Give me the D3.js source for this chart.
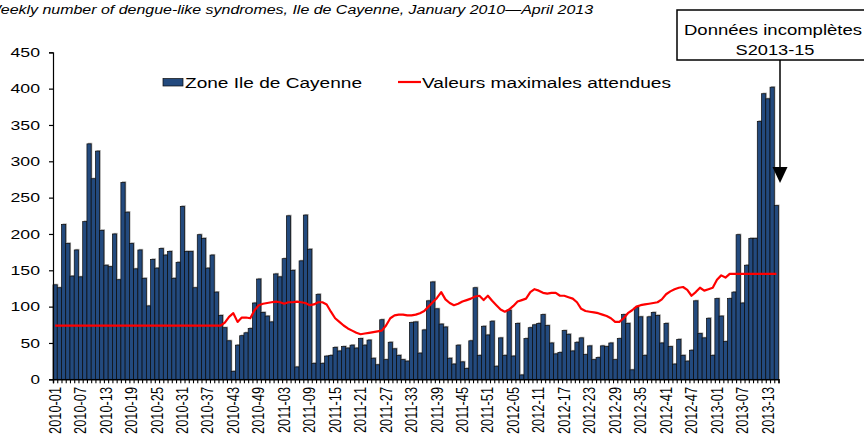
<!DOCTYPE html>
<html><head><meta charset="utf-8">
<script src="https://cdn.jsdelivr.net/npm/d3@7"></script>
<style>body{margin:0;background:#fff}svg{display:block}</style>
</head><body>
<script>
const years = [2010, 2011, 2012, 2013];
const weeksPerYear = [52, 52, 52, 15];
const cases = [
130,126,213,187,142,178,141,217,324,276,314,205,157,155,200,137,271,230,187,152,
178,139,101,165,153,180,171,176,139,161,238,176,176,126,199,
194,153,171,120,88,71,53,11,47,60,64,70,105,138,92,87,79,145,141,166,
225,150,17,163,226,179,22,117,22,32,33,44,39,45,
43,47,43,56,47,54,29,20,82,27,51,42,33,27,25,78,79,36,68,108,
134,97,76,72,29,21,47,24,15,53,126,33,73,61,80,
18,57,33,95,32,77,6,56,71,75,77,89,74,50,35,37,67,62,39,51,
57,34,46,27,30,46,45,50,27,56,89,77,13,99,
86,33,86,92,88,50,77,45,21,55,33,25,40,108,63,57,84,33,111,87,
52,111,120,199,105,157,194,194,355,393,386,402,239
];
const expectedMax = [
74,74,74,74,74,74,74,74,74,74,74,74,74,74,74,74,74,74,74,74,
74,74,74,74,74,74,74,74,74,74,74,74,74,74,74,74,74,74,74,74,
78,86,91,79,85,85,84,95,102,104,105,106,107,106,104,106,106,107,106,105,
102,103,106,106,103,93,84,79,74,70,67,64,62,63,64,65,66,67,74,84,
88,89,89,88,88,89,91,94,100,106,112,120,110,105,102,104,107,109,111,114,
115,109,115,108,102,96,93,96,101,107,109,111,120,124,122,119,118,119,119,115,
115,113,111,106,97,94,93,92,91,89,87,84,79,79,84,91,95,100,102,103,
104,105,106,110,117,121,124,126,127,123,115,120,126,122,124,126,137,143,140,145,
145,145,145,145,145,145,145,145,145,145,145
];
const yTicks = [0,50,100,150,200,250,300,350,400,450];
const labelEvery = 6;
const legendLabels = ["Zone Ile de Cayenne", "Valeurs maximales attendues"];
const titleText = "Weekly number of dengue-like syndromes, Ile de Cayenne, January 2010\u2014April 2013";
const noteLines = ["Données incomplètes", "S2013-15"];

const weeks = [];
years.forEach((yr, k) => {
  for (let w = 1; w <= weeksPerYear[k]; w++) weeks.push(yr + "-" + String(w).padStart(2, "0"));
});

const W = 864, H = 437;
const mLeft = 53, mRight = 778.5, mTop = 52.3, mBottom = 379.3;
const font = "'Liberation Sans', Arial, sans-serif";

const svg = d3.select("body").append("svg").attr("width", W).attr("height", H);

const x = d3.scaleBand().domain(weeks).range([mLeft, mRight]).paddingInner(0).paddingOuter(0);
const xb = d3.scaleLinear().domain([0, weeks.length]).range([mLeft, mRight]);
const y = d3.scaleLinear().domain([0, 450]).range([mBottom, mTop]);

// Bars: shadow + fill
const bw = x.bandwidth();
svg.append("g").selectAll("rect").data(cases).join("rect")
  .attr("x", (d, i) => x(weeks[i]) + 1.1)
  .attr("y", d => y(d) - 1.1)
  .attr("width", bw)
  .attr("height", d => mBottom - y(d) + 1.1)
  .attr("fill", "#a8a8a8");
svg.append("g").selectAll("rect").data(cases).join("rect")
  .attr("x", (d, i) => x(weeks[i]))
  .attr("y", d => y(d))
  .attr("width", bw)
  .attr("height", d => mBottom - y(d))
  .attr("fill", "#234a7e")
  .attr("stroke", "#0b0b0b")
  .attr("stroke-width", 0.7);

// Red line
const line = d3.line().x((d, i) => x(weeks[i]) + bw / 2).y(d => y(d));
svg.append("path").datum(expectedMax).attr("d", line)
  .attr("fill", "none").attr("stroke", "#ff0000").attr("stroke-width", 2.2)
  .attr("stroke-linejoin", "round");

// Y axis
const yAxis = svg.append("g").attr("transform", `translate(${mLeft},0)`)
  .call(d3.axisLeft(y).tickValues(yTicks).tickSize(4).tickPadding(9));
yAxis.selectAll("path,line").attr("stroke", "#000").attr("stroke-width", 1.2);
yAxis.selectAll("text").attr("font-family", font).attr("font-size", 13).attr("fill", "#000")
  .attr("textLength", d => String(d).length * 10 - 0.5).attr("lengthAdjust", "spacingAndGlyphs");

// X axis line and ticks at band boundaries
const xAxis = svg.append("g").attr("transform", `translate(0,${mBottom})`)
  .call(d3.axisBottom(xb).tickValues(d3.range(weeks.length + 1)).tickSize(4).tickFormat(""));
xAxis.selectAll("path,line").attr("stroke", "#000").attr("stroke-width", 1.1);
xAxis.select("path").attr("stroke-width", 1.4);

// X labels
const labelWeeks = weeks.filter((d, i) => i % labelEvery === 0);
svg.append("g").selectAll("text").data(labelWeeks).join("text")
  .attr("transform", d => `translate(${x(d) + bw / 2},387) scale(1.22,1) rotate(-90)`)
  .attr("text-anchor", "end").attr("dy", "0.36em")
  .attr("font-family", font).attr("font-size", 12.8).attr("fill", "#000")
  .text(d => d);

// Legend
const lg = svg.append("g");
lg.append("rect").attr("x", 163).attr("y", 78.5).attr("width", 20).attr("height", 7.5)
  .attr("fill", "#234a7e").attr("stroke", "#0b0b0b").attr("stroke-width", 0.7);
lg.append("text").attr("x", 185).attr("y", 88).attr("font-family", font).attr("font-size", 15.5)
  .attr("textLength", 177).attr("lengthAdjust", "spacingAndGlyphs").text(legendLabels[0]);
lg.append("line").attr("x1", 398).attr("x2", 421).attr("y1", 82).attr("y2", 82)
  .attr("stroke", "#ff0000").attr("stroke-width", 2.2);
lg.append("text").attr("x", 422).attr("y", 88).attr("font-family", font).attr("font-size", 15.5)
  .attr("textLength", 249).attr("lengthAdjust", "spacingAndGlyphs").text(legendLabels[1]);

// Title
svg.append("text").attr("x", -14).attr("y", 14).attr("font-family", font).attr("font-size", 12.5)
  .attr("font-style", "italic").attr("textLength", 607).attr("lengthAdjust", "spacingAndGlyphs")
  .text(titleText);

// Annotation box and arrow
svg.append("rect").attr("x", 677).attr("y", 10).attr("width", 220).attr("height", 50)
  .attr("fill", "#fff").attr("stroke", "#000").attr("stroke-width", 1.5);
svg.append("text").attr("x", 773).attr("y", 35).attr("text-anchor", "middle")
  .attr("font-family", font).attr("font-size", 15.5)
  .attr("textLength", 178).attr("lengthAdjust", "spacingAndGlyphs").text(noteLines[0]);
svg.append("text").attr("x", 775).attr("y", 55).attr("text-anchor", "middle")
  .attr("font-family", font).attr("font-size", 15.5)
  .attr("textLength", 79).attr("lengthAdjust", "spacingAndGlyphs").text(noteLines[1]);
svg.append("line").attr("x1", 780).attr("x2", 780).attr("y1", 60).attr("y2", 168)
  .attr("stroke", "#000").attr("stroke-width", 1.5);
svg.append("path").attr("d", "M772.5,167 L787.5,167 L780,183 Z").attr("fill", "#000");
</script>
</body></html>
